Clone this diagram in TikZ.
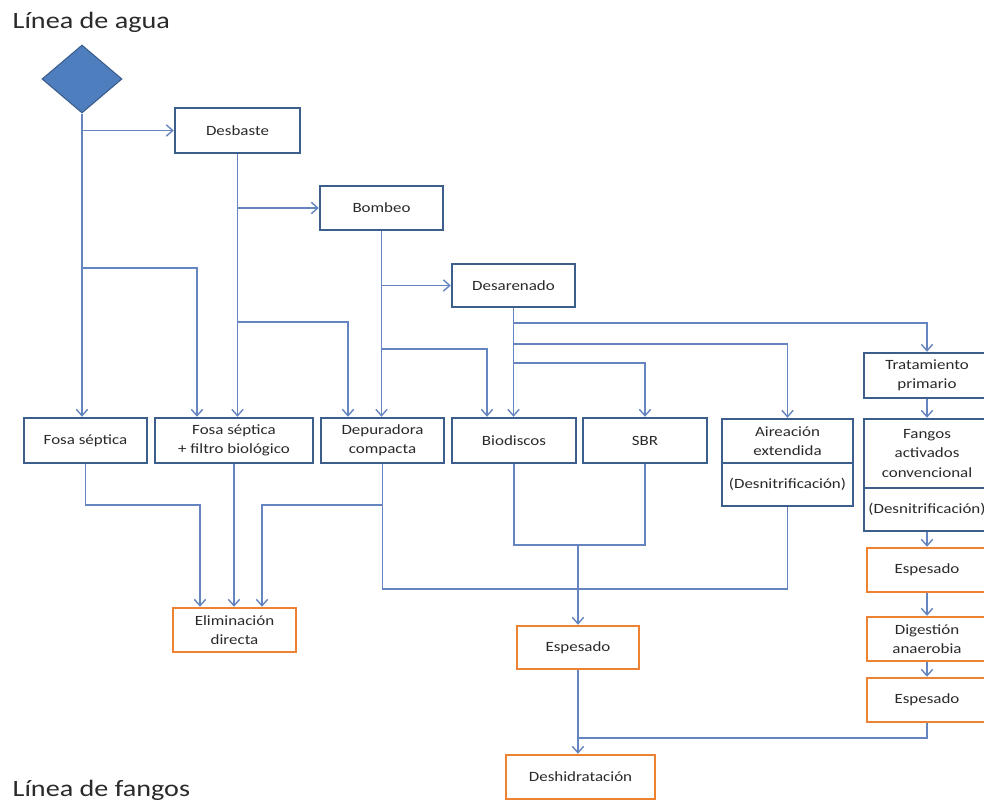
\documentclass[tikz,border=0pt]{standalone}
\usepackage{fontspec}
\setmainfont{Carlito}[FakeStretch=1.2]
\usetikzlibrary{arrows.meta,shapes.geometric,calc}
\definecolor{boxblue}{HTML}{3B5E8C}
\definecolor{linkblue}{HTML}{6585C0}
\definecolor{boxorange}{HTML}{EE8233}
\definecolor{txt}{HTML}{2A2A2A}
\definecolor{diafill}{HTML}{4F7EBE}
\tikzset{
  basebox/.style={rectangle,fill=white,line width=1.85pt,inner sep=0pt,align=center,
    text=txt,font=\fontsize{10.6}{14.4}\selectfont},
  bluebox/.style={basebox,draw=boxblue},
  orangebox/.style={basebox,draw=boxorange},
  line/.style={draw=linkblue,line width=1.05pt},
  link/.style={line,-{Straight Barb[length=4.8pt,width=8.5pt]}},
  title/.style={anchor=west,text=txt,font=\fontsize{17.6}{21}\selectfont}
}
\begin{document}
\begin{tikzpicture}[x=0.75pt,y=-0.75pt]
\useasboundingbox (0,0) rectangle (984,803);
\fill[white] (0,0) rectangle (984,803);
\clip (0,0) rectangle (984,803);

% titles
\node[title] (t1) at (8,22) {Línea de agua};
\node[title] (t2) at (8,790) {Línea de fangos};

% start diamond
\node[diamond,aspect=1.18,fill=diafill,draw=boxblue,line width=0.8pt,inner sep=0pt,minimum width=60pt,minimum height=51pt] (start) at (82,79) {};

% water line boxes
\node[bluebox,minimum width=93.75pt,minimum height=33.75pt] (desbaste) at (237.5,130.5) {Desbaste};
\node[bluebox,minimum width=92.25pt,minimum height=33pt] (bombeo) at (381.5,208) {Bombeo};
\node[bluebox,minimum width=92.25pt,minimum height=32.25pt] (desarenado) at (513.5,285.5) {Desarenado};

\node[bluebox,minimum width=92.25pt,minimum height=33.75pt] (fosa) at (85.5,440.5) {Fosa séptica};
\node[bluebox,minimum width=118.5pt,minimum height=33.75pt] (fosafil) at (234,440.5) {Fosa séptica\\+ filtro biológico};
\node[bluebox,minimum width=92.25pt,minimum height=33.75pt] (depur) at (382.5,440.5) {Depuradora\\compacta};
\node[bluebox,minimum width=93pt,minimum height=33.75pt] (biod) at (514,440.5) {Biodiscos};
\node[bluebox,minimum width=93pt,minimum height=33.75pt] (sbr) at (645,440.5) {SBR};
\node[bluebox,minimum width=98.25pt,minimum height=33pt] (aire) at (787.5,441) {Aireación\\extendida};
\node[bluebox,minimum width=98.25pt,minimum height=32.25pt] (aireb) at (787.5,484.5) {(Desnitrificación)};
\node[bluebox,minimum width=94.5pt,minimum height=33.75pt] (trat) at (927,375.5) {Tratamiento\\primario};
\node[bluebox,minimum width=94.5pt,minimum height=51.75pt] (fangos) at (927,453.5) {Fangos\\activados\\convencional};
\node[bluebox,minimum width=94.5pt,minimum height=32.25pt] (fangosb) at (927,509.5) {(Desnitrificación)};

% sludge line boxes
\node[orangebox,minimum width=92.25pt,minimum height=33pt] (elim) at (234.5,630) {Eliminación\\directa};
\node[orangebox,minimum width=91.5pt,minimum height=32.25pt] (espm) at (578,647.5) {Espesado};
\node[orangebox,minimum width=111.75pt,minimum height=33pt] (desh) at (580.5,777) {Deshidratación};
\node[orangebox,minimum width=90pt,minimum height=33pt] (esp1) at (927,570) {Espesado};
\node[orangebox,minimum width=90pt,minimum height=33pt] (digest) at (927,639) {Digestión\\anaerobia};
\node[orangebox,minimum width=90pt,minimum height=33pt] (esp2) at (927,700) {Espesado};

% connectors from the start
\draw[link] (start.south) -- (start.south |- fosa.north);
\draw[link] (start.south |- desbaste.west) -- (desbaste.west);
\draw[link] (start.south |- 0,268) -| (197,0 |- fosafil.north);

% from Desbaste
\draw[link] (desbaste.south) -- (desbaste.south |- fosafil.north);
\draw[link] (desbaste.south |- bombeo.west) -- (bombeo.west);
\draw[link] (desbaste.south |- 0,322) -| (348,0 |- depur.north);

% from Bombeo
\draw[link] (bombeo.south) -- (bombeo.south |- depur.north);
\draw[link] (bombeo.south |- desarenado.west) -- (desarenado.west);
\draw[link] (bombeo.south |- 0,349) -| (487,0 |- biod.north);

% from Desarenado
\draw[link] (desarenado.south) -- (desarenado.south |- biod.north);
\draw[link] (desarenado.south |- 0,323) -| (trat.north);
\draw[link] (desarenado.south |- 0,344) -| (aire.north);
\draw[link] (desarenado.south |- 0,363) -| (sbr.north);

% right column
\draw[link] (trat.south) -- (fangos.north);
\draw[link] (fangosb.south) -- (esp1.north);
\draw[link] (esp1.south) -- (digest.north);
\draw[link] (digest.south) -- (esp2.north);
\draw[line] (esp2.south) |- (espm.south |- 0,738);

% Biodiscos and SBR to Espesado
\draw[line] (biod.south) -- (biod.south |- 0,545) -| (sbr.south);
\draw[link] (espm.north |- 0,545) -- (espm.north);

% Aireacion extendida and Depuradora compacta
\draw[line] (aireb.south) |- (depur.south |- 0,589) -- (depur.south);
\draw[link] (depur.south |- 0,505) -| (262,0 |- elim.north);

% Fosa septica to Eliminacion directa
\draw[link] (fosa.south) |- (200,505) -- (200,0 |- elim.north);
\draw[link] (fosafil.south) -- (fosafil.south |- elim.north);

% Espesado to Deshidratacion
\draw[link] (espm.south) -- (espm.south |- desh.north);
\end{tikzpicture}
\end{document}
